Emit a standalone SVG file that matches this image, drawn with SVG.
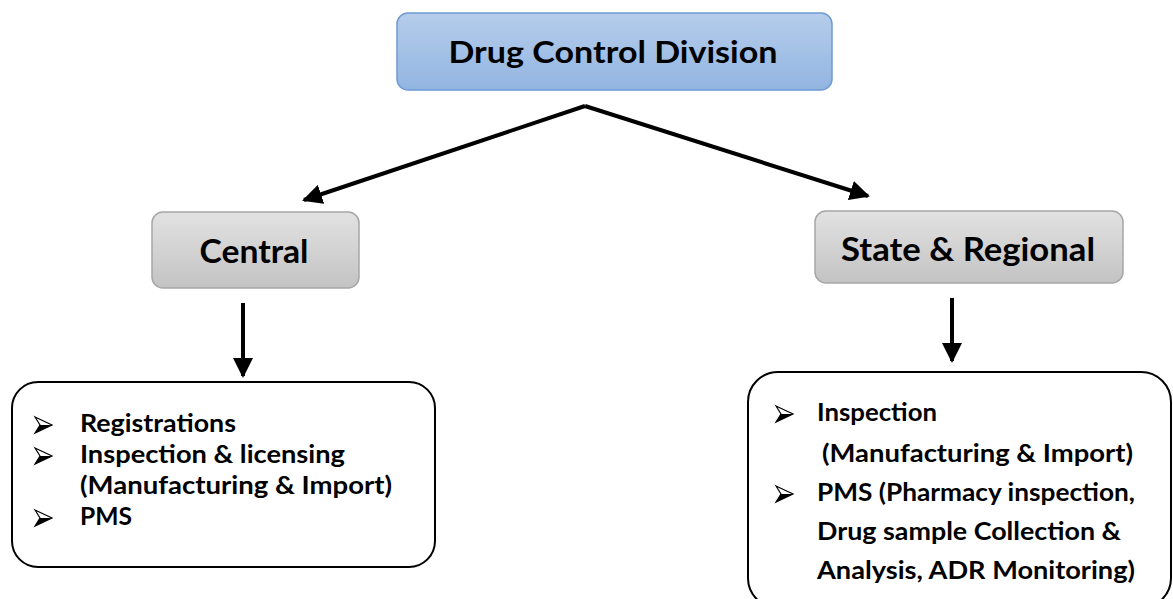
<svg xmlns="http://www.w3.org/2000/svg" width="1173" height="599" viewBox="0 0 1173 599">
<defs>
<linearGradient id="gBlue" x1="0" y1="0" x2="0" y2="1"><stop offset="0" stop-color="#b6cdeb"/><stop offset="1" stop-color="#92b5e1"/></linearGradient>
<linearGradient id="gGray" x1="0" y1="0" x2="0" y2="1"><stop offset="0" stop-color="#e2e2e2"/><stop offset="1" stop-color="#c3c3c3"/></linearGradient>
<marker id="ah" viewBox="0 0 10 10" refX="9" refY="5" markerWidth="5" markerHeight="5" orient="auto" markerUnits="strokeWidth"><path d="M0,0 L10,5 L0,10 z" fill="#000"/></marker>
<g id="bul"><path d="M0,-8 L17,0 L0,8 L5,0 Z" fill="#fff" stroke="#000" stroke-width="1.2" stroke-linejoin="miter"/><path d="M5,0 L17,0 L0,8 Z" fill="#000"/></g>
</defs>
<style>
text{font-family:Lato,"Liberation Sans",sans-serif;font-weight:bold;fill:#000}
.t1{font-size:31px}
.t2{font-size:32px}
.li{font-size:24px}
.conn{stroke:#000;stroke-width:4;fill:none}
</style>
<rect width="1173" height="599" fill="#fff"/>
<g id="connectors">
<path class="conn" d="M585,106 L304,200" marker-end="url(#ah)"/>
<path class="conn" d="M585,106 L868,196" marker-end="url(#ah)"/>
<path class="conn" d="M243,303 L243,376" marker-end="url(#ah)"/>
<path class="conn" d="M952,298 L952,361" marker-end="url(#ah)"/>
</g>
<g id="division">
<rect x="397" y="13" width="435" height="77" rx="11" fill="url(#gBlue)" stroke="#6d9bd3" stroke-width="1.5"/>
<text class="t1" x="613" y="63" text-anchor="middle" textLength="329" lengthAdjust="spacingAndGlyphs">Drug Control Division</text>
</g>
<g id="central">
<rect x="152" y="212" width="207" height="76" rx="11" fill="url(#gGray)" stroke="#a6a6a6" stroke-width="1.5"/>
<text class="t2" x="254" y="263" text-anchor="middle" textLength="109" lengthAdjust="spacingAndGlyphs">Central</text>
</g>
<g id="state">
<rect x="815" y="211" width="308" height="72" rx="11" fill="url(#gGray)" stroke="#a6a6a6" stroke-width="1.5"/>
<text class="t2" x="968" y="261" text-anchor="middle" textLength="254" lengthAdjust="spacingAndGlyphs">State &amp; Regional</text>
</g>
<g id="central-list">
<rect x="12" y="382" width="423" height="185" rx="26" fill="#fff" stroke="#000" stroke-width="2"/>
<use href="#bul" x="35" y="425"/>
<use href="#bul" x="35" y="456"/>
<use href="#bul" x="35" y="518"/>
<text class="li" x="80" y="432" textLength="156" lengthAdjust="spacingAndGlyphs">Registrations</text>
<text class="li" x="80" y="463" textLength="265" lengthAdjust="spacingAndGlyphs">Inspection &amp; licensing</text>
<text class="li" x="80" y="494" textLength="312" lengthAdjust="spacingAndGlyphs">(Manufacturing &amp; Import)</text>
<text class="li" x="80" y="525" textLength="52" lengthAdjust="spacingAndGlyphs">PMS</text>
</g>
<g id="state-list">
<rect x="748" y="372" width="423" height="236" rx="30" fill="#fff" stroke="#000" stroke-width="2"/>
<use href="#bul" x="776" y="414"/>
<use href="#bul" x="776" y="494"/>
<text class="li" x="817" y="421" textLength="120" lengthAdjust="spacingAndGlyphs">Inspection</text>
<text class="li" x="822" y="462" textLength="311" lengthAdjust="spacingAndGlyphs">(Manufacturing &amp; Import)</text>
<text class="li" x="817" y="501" textLength="318" lengthAdjust="spacingAndGlyphs">PMS (Pharmacy inspection,</text>
<text class="li" x="817" y="540" textLength="304" lengthAdjust="spacingAndGlyphs">Drug sample Collection &amp;</text>
<text class="li" x="817" y="579" textLength="318" lengthAdjust="spacingAndGlyphs">Analysis, ADR Monitoring)</text>
</g>
</svg>
